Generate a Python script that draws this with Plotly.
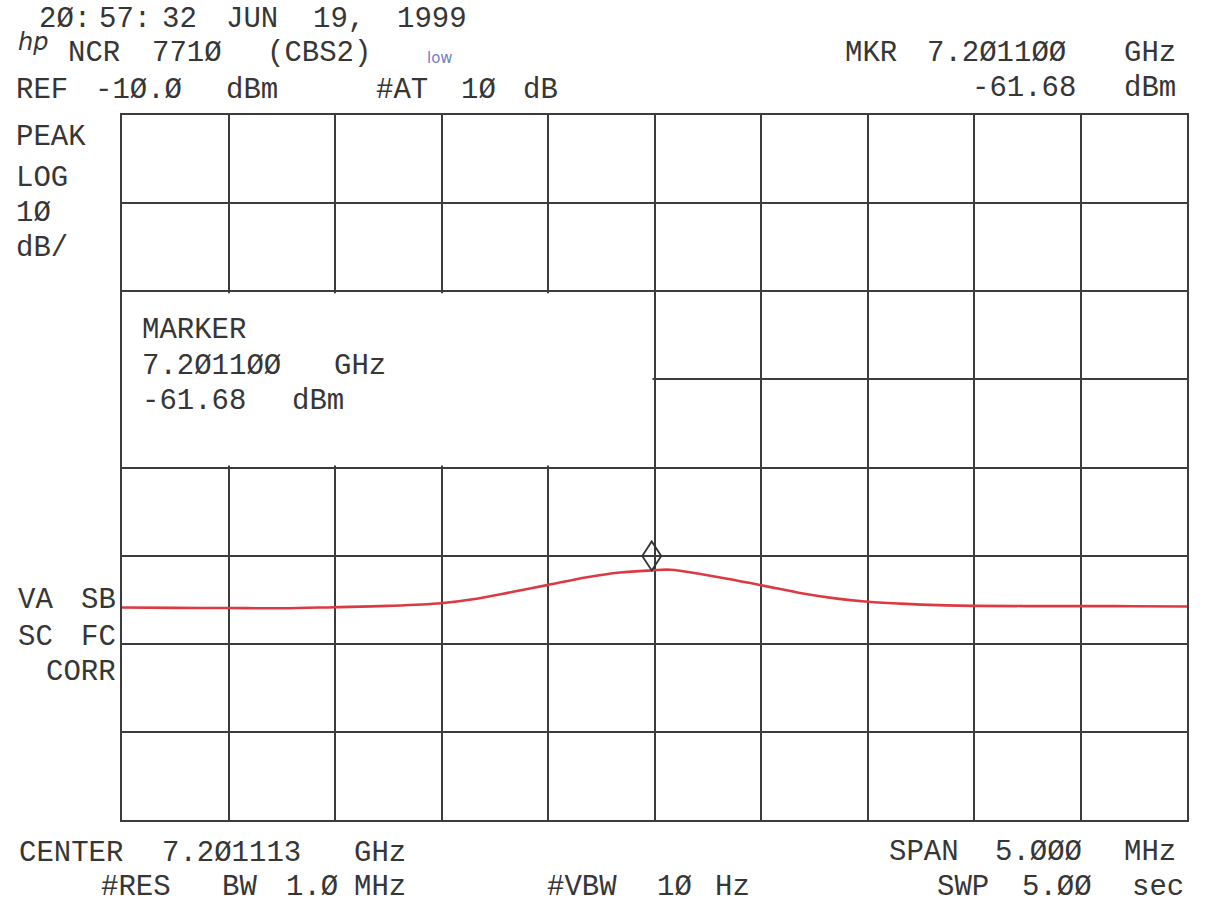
import plotly.graph_objects as go

# ---------------- data ----------------
freq_ghz = [7.198613, 7.198862, 7.199111, 7.199360, 7.199608, 7.199862,
            7.200111, 7.200261, 7.200449, 7.200608, 7.200796, 7.200951,
            7.201100, 7.201186, 7.201341, 7.201608, 7.201810, 7.201970,
            7.202101, 7.202266, 7.202364, 7.202604, 7.203106, 7.203360,
            7.203613]
level_dbm = [-65.89, -65.93, -65.95, -65.97, -65.85, -65.70,
             -65.40, -64.95, -64.10, -63.35, -62.45, -61.92,
             -61.68, -61.60, -62.15, -63.33, -64.30, -64.88,
             -65.20, -65.45, -65.56, -65.70, -65.73, -65.74,
             -65.78]

marker_freq_ghz = 7.201100
marker_level_dbm = -61.68
center_ghz = 7.201113
span_mhz = 5.0
ref_level_dbm = -10.0
db_per_div = 10
n_xdiv = 10
n_ydiv = 8

# ---------------- geometry / style ----------------
W, H = 1219, 905
L, R, T, B = 122, 1187, 115, 820
GRID = "#3c3c3c"
TXT = "#363636"
FONT = "Liberation Mono"
FS = 29

x_min = center_ghz - span_mhz / 2000.0
x_max = center_ghz + span_mhz / 2000.0
y_max = ref_level_dbm
y_min = ref_level_dbm - db_per_div * n_ydiv

fig = go.Figure()
fig.add_trace(go.Scatter(
    x=freq_ghz, y=level_dbm, mode="lines",
    line=dict(color="#dc3a42", width=2.6, shape="spline", smoothing=1.0),
    hoverinfo="skip", showlegend=False))

fig.update_xaxes(range=[x_min, x_max], tick0=x_min, dtick=(x_max - x_min) / n_xdiv,
                 showgrid=True, gridcolor=GRID, gridwidth=1.7, zeroline=False,
                 showticklabels=False, ticks="", showline=True, mirror=True,
                 linecolor=GRID, linewidth=1.8)
fig.update_yaxes(range=[y_min, y_max], tick0=y_min, dtick=db_per_div,
                 showgrid=True, gridcolor=GRID, gridwidth=1.7, zeroline=False,
                 showticklabels=False, ticks="", showline=True, mirror=True,
                 linecolor=GRID, linewidth=1.8)

# white marker read-out box (hides grid lines in its interior)
px_x = (x_max - x_min) / (R - L)
px_y = (y_max - y_min) / (B - T)
shapes = [dict(type="rect", xref="x", yref="y", layer="between",
               x0=x_min - 2 * px_x, x1=center_ghz - 2 * px_x,
               y0=ref_level_dbm - 4 * db_per_div + 2 * px_y,
               y1=ref_level_dbm - 2 * db_per_div - 2 * px_y,
               fillcolor="white", line=dict(width=0))]
# marker diamond sitting on the trace
shapes.append(dict(type="path", xref="x", yref="y", xsizemode="pixel", ysizemode="pixel",
                   xanchor=marker_freq_ghz, yanchor=marker_level_dbm,
                   path="M0,0 L9.5,14.5 L0,29 L-9.5,14.5 Z",
                   line=dict(color="#333333", width=1.8), fillcolor="rgba(0,0,0,0)",
                   layer="above"))


def z(s):
    return s.replace("0", "Ø")


def txt(s, x, y, anchor="left", size=FS, color=TXT, font=FONT):
    return dict(text=s, xref="paper", yref="paper",
                x=(x - L) / (R - L), y=(B - y) / (B - T),
                xanchor=anchor, yanchor="middle", showarrow=False,
                font=dict(family=font, size=size, color=color))


ann = []
# header
for s, x in [("2Ø:", 37), ("57:", 97), ("32", 160), ("JUN", 224), ("19,", 311), ("1999", 395)]:
    ann.append(txt(s, x, 20))
for s, x in [("NCR", 66), ("771Ø", 150), ("(CBS2)", 265)]:
    ann.append(txt(s, x, 53))
ann.append(txt("<i>hp</i>", 33, 42, anchor="center", size=24, font="DejaVu Sans"))
ann.append(txt("low", 425, 58, size=15, color="#6f7fc8", font="DejaVu Sans"))
for s, x in [("REF", 14), (z("%.1f" % ref_level_dbm), 93), ("dBm", 224),
             ("#AT", 374), ("1Ø", 459), ("dB", 521)]:
    ann.append(txt(s, x, 90))
# marker readout top right
for s, x in [("MKR", 843), (z("%.6f" % marker_freq_ghz), 925)]:
    ann.append(txt(s, x, 53))
ann.append(txt("GHz", 1178, 53, anchor="right"))
ann.append(txt("%.2f" % marker_level_dbm, 970, 88))
ann.append(txt("dBm", 1178, 88, anchor="right"))
# left annotations
for s, y in [("PEAK", 137), ("LOG", 178), (z(str(db_per_div)), 213), ("dB/", 248)]:
    ann.append(txt(s, 14, y))
ann.append(txt("VA", 16, 600))
ann.append(txt("SB", 118, 600, anchor="right"))
ann.append(txt("SC", 16, 637))
ann.append(txt("FC", 118, 637, anchor="right"))
ann.append(txt("CORR", 118, 672, anchor="right"))
# marker box
ann.append(txt("MARKER", 140, 330))
ann.append(txt(z("%.6f" % marker_freq_ghz), 140, 366))
ann.append(txt("GHz", 332, 366))
ann.append(txt("%.2f" % marker_level_dbm, 140, 401))
ann.append(txt("dBm", 290, 401))
# bottom
for s, x in [("CENTER", 17), (z("%.6f" % center_ghz), 160), ("GHz", 352)]:
    ann.append(txt(s, x, 853))
for s, x in [("#RES", 99), ("BW", 220), ("1.Ø", 284), ("MHz", 352),
             ("#VBW", 545), ("1Ø", 655), ("Hz", 713)]:
    ann.append(txt(s, x, 887))
for s, x in [("SPAN", 887), (z("%.3f" % span_mhz), 993)]:
    ann.append(txt(s, x, 852))
ann.append(txt("MHz", 1178, 852, anchor="right"))
for s, x in [("SWP", 935), ("5.ØØ", 1020)]:
    ann.append(txt(s, x, 887))
ann.append(txt("sec", 1186, 887, anchor="right"))

fig.update_layout(width=W, height=H, autosize=False,
                  margin=dict(l=L, r=W - R, t=T, b=H - B, pad=0),
                  paper_bgcolor="white", plot_bgcolor="white",
                  shapes=shapes, annotations=ann, showlegend=False)

fig.write_html("out.html")
